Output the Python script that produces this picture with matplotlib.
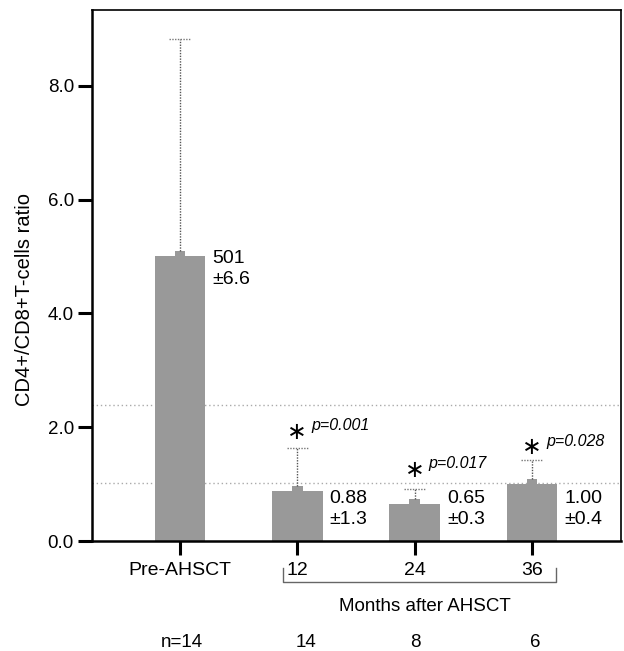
import numpy as np
import matplotlib.pyplot as plt

plt.rcParams['font.family'] = ['Liberation Sans', 'DejaVu Sans']

# data
groups = ['Pre-AHSCT', '12', '24', '36']
ratio = [5.01, 0.88, 0.65, 1.00]
err_top = [8.82, 1.63, 0.91, 1.42]
labels = ['501\n±6.6', '0.88\n±1.3', '0.65\n±0.3', '1.00\n±0.4']
pvals = [None, 'p=0.001', 'p=0.017', 'p=0.028']
star_y = [None, 1.92, 1.25, 1.66]
p_y = [None, 2.03, 1.37, 1.75]
n_counts = ['n=14', '14', '8', '6']
ref_lines = [2.39, 1.02]

x = np.arange(len(groups))
bar_color = '#999999'

fig = plt.figure(figsize=(6.24, 6.51), dpi=100)
ax = fig.add_axes([92 / 624, 110 / 651, 529 / 624, 531 / 651])

for y in ref_lines:
    ax.axhline(y, color='#aaaaaa', linestyle=(0, (1, 2)), linewidth=1, zorder=0)

ax.bar(x, ratio, width=0.43, color=bar_color, zorder=2)
# little cap block on top of each bar
ax.bar(x, [0.09] * len(x), bottom=ratio, width=0.09, color=bar_color, zorder=2)

for i in range(len(x)):
    ax.plot([x[i], x[i]], [ratio[i] + 0.09, err_top[i]], color='#555555',
            linestyle=(0, (1, 1)), linewidth=1, zorder=3)
    ax.plot([x[i] - 0.09, x[i] + 0.09], [err_top[i], err_top[i]], color='#777777',
            linestyle=(0, (1, 1)), linewidth=1, zorder=3)

# value labels
lab_y = [5.12, 0.9, 0.9, 0.9]
for i in range(len(x)):
    ax.text(x[i] + 0.275, lab_y[i], labels[i], ha='left', va='top',
            fontsize=14, linespacing=1.3)

# significance
for i in range(1, len(x)):
    ax.text(x[i], star_y[i], '∗', ha='center', va='center', fontsize=17,
            family='DejaVu Sans')
    ax.text(x[i] + 0.12, p_y[i], pvals[i], ha='left', va='center',
            fontsize=11.5, style='italic')

ax.set_xlim(-0.749, 3.758)
ax.set_ylim(0, 9.33)
ax.set_xticks(x)
ax.set_xticklabels(groups, fontsize=14)
ax.set_yticks([0, 2, 4, 6, 8])
ax.set_yticklabels(['0.0', '2.0', '4.0', '6.0', '8.0'], fontsize=13.5)
ax.tick_params(axis='both', direction='out', length=10, width=2.2, pad=3)
ax.tick_params(axis='x', pad=5)
for s in ['left', 'bottom']:
    ax.spines[s].set_linewidth(1.8)
for s in ['top', 'right']:
    ax.spines[s].set_linewidth(1.2)

ax.set_ylabel('CD4+/CD8+T-cells ratio', fontsize=14.5)
ax.yaxis.set_label_coords(-0.11, 0.454)

# bracket under month labels
bx0, bx1 = 0.875, 3.2
yb0, yb1 = -0.47, -0.72
ax.plot([bx0, bx0, bx1, bx1], [yb0, yb1, yb1, yb0], color='#666666',
        linewidth=1, clip_on=False)
ax.text(2.09, -1.15, 'Months after AHSCT', ha='center', va='center', fontsize=13.5)

n_x = [0.02, 1.07, 2.01, 3.03]
for i in range(len(x)):
    ax.text(n_x[i], -1.79, n_counts[i], ha='center', va='center', fontsize=13.5)

fig.savefig('out.png', dpi=100)
